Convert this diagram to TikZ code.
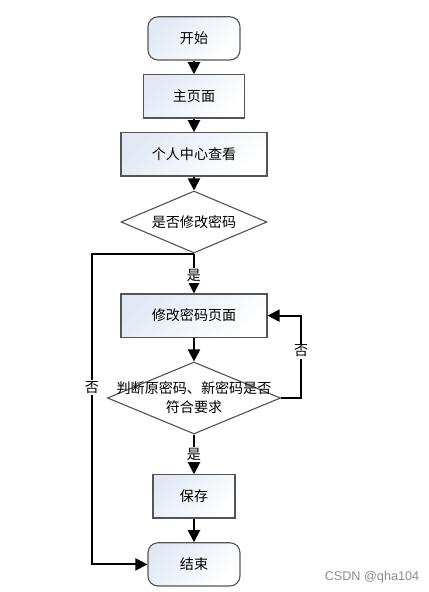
\documentclass[tikz,border=0pt]{standalone}
\usepackage{fontspec}
\newfontfamily\cjk{Noto Sans CJK SC}
\newfontfamily\wmfont{Liberation Sans}
\usepackage{tikz}
\usetikzlibrary{shapes.geometric,arrows.meta}

\definecolor{boxblue}{RGB}{226,233,245}
\definecolor{boxline}{RGB}{85,85,85}

\tikzset{
  flowbox/.style={draw=boxline, line width=0.8pt, top color=boxblue, bottom color=white,
    shading angle=45, font=\cjk\fontsize{10}{13.5}\selectfont, inner sep=0pt},
  termbox/.style={flowbox, rectangle, rounded corners=0.25cm, minimum width=2.3cm, minimum height=1.08cm},
  procbox/.style={flowbox, rectangle, minimum height=1.08cm},
  decbox/.style={flowbox, diamond, top color=white, bottom color=white},
  arr/.style={line width=1.4pt, -{Triangle[width=0.3cm,length=0.3cm]}},
  lbl/.style={fill=white, inner sep=1pt, font=\cjk\fontsize{10}{12}\selectfont}
}

\begin{document}
\begin{tikzpicture}
      \useasboundingbox (0,0) rectangle (10.7,-14.8);

      % Define coordinates
      \coordinate (c_start) at (4.85, -0.96);
      \coordinate (c_home) at (4.85, -2.41);
      \coordinate (c_center) at (4.85, -3.86);
      \coordinate (c_ask) at (4.85, -5.55);
      \coordinate (c_edit) at (4.85, -7.89);
      \coordinate (c_check) at (4.85, -9.95);
      \coordinate (c_save) at (4.85, -12.41);
      \coordinate (c_end) at (4.85, -14.11);
      \coordinate (left_rail) at (2.3, 0);

      % Start, pages and end
      \node[termbox] (start) at (c_start) {开始};
      \node[procbox, minimum width=2.52cm] (home) at (c_home) {主页面};
      \node[procbox, minimum width=3.65cm] (center) at (c_center) {个人中心查看};
      \node[procbox, minimum width=3.65cm] (edit) at (c_edit) {修改密码页面};
      \node[procbox, minimum width=2.05cm] (save) at (c_save) {保存};
      \node[termbox] (end) at (c_end) {结束};

      % Decisions: diamond first, text on top
      \node[decbox, minimum width=3.65cm, minimum height=1.55cm] (ask) at (c_ask) {};
      \node[font=\cjk\fontsize{10}{13.5}\selectfont] (ask_text) at (c_ask) {是否修改密码};
      \node[decbox, minimum width=4.33cm, minimum height=1.8cm] (check) at (c_check) {};
      \node[font=\cjk\fontsize{10}{13.5}\selectfont, align=center] (check_text) at (c_check)
        {判断原密码、新密码是否\\符合要求};

      % Main flow
      \draw[arr] (start) -- (home);
      \draw[arr] (home) -- (center);
      \draw[arr] (center) -- (ask);
      \draw[arr] (ask.south) -- node[lbl, pos=0.55] {是} (edit);
      \draw[arr] (edit) -- (check.north);
      \draw[arr] (check.south) -- node[lbl, pos=0.5] {是} (save);
      \draw[arr] (save) -- (end);

      % No branches
      \draw[arr] (ask.south) -- (ask.south -| left_rail) |- node[lbl, pos=0.215] {否} (end.west);
      \draw[arr] (check.east) -- ++(0.5,0) |- node[lbl, pos=0.285] {否} (edit.east);

      % Watermark
      \node[text=black!45, font=\wmfont\fontsize{9}{10}\selectfont] (mark) at (9.3, -14.42) {CSDN @qha104};
    \end{tikzpicture}
\end{document}
